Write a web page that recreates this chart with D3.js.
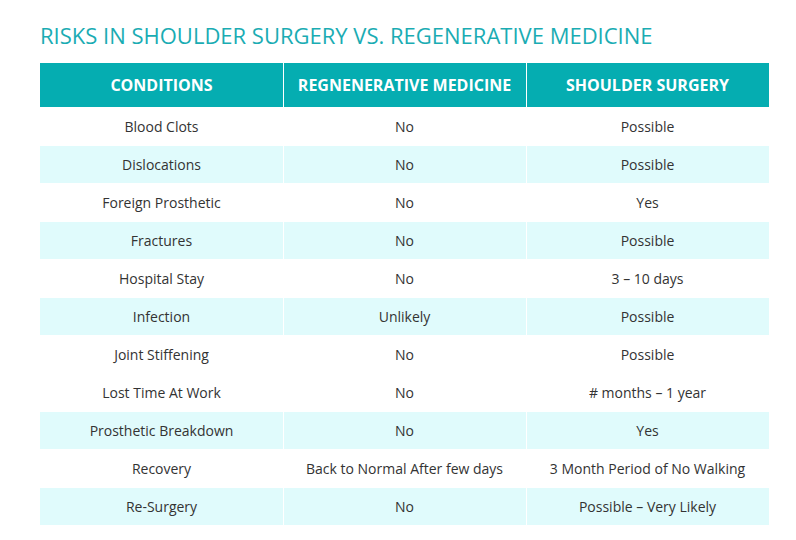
<!DOCTYPE html>
<html>
<head>
<meta charset="utf-8">
<script src="https://cdn.jsdelivr.net/npm/d3@7"></script>
<style>
  body { margin: 0; background: #fff; }
</style>
</head>
<body>
<div id="container"></div>
<script>
const title = 'RISKS IN SHOULDER SURGERY VS. REGENERATIVE MEDICINE';
const columns = ['CONDITIONS', 'REGNENERATIVE MEDICINE', 'SHOULDER SURGERY'];
const conditions = ['Blood Clots', 'Dislocations', 'Foreign Prosthetic', 'Fractures', 'Hospital Stay',
  'Infection', 'Joint Stiffening', 'Lost Time At Work', 'Prosthetic Breakdown', 'Recovery', 'Re-Surgery'];
const regenerative = ['No', 'No', 'No', 'No', 'No', 'Unlikely', 'No', 'No', 'No',
  'Back to Normal After few days', 'No'];
const surgery = ['Possible', 'Possible', 'Yes', 'Possible', '3 \u2013 10 days', 'Possible', 'Possible',
  '# months \u2013 1 year', 'Yes', '3 Month Period of No Walking', 'Possible \u2013 Very Likely'];
// rows drawn with the light tint (the stripe skips a beat after Joint Stiffening)
const shadedRows = ['Dislocations', 'Fractures', 'Infection', 'Prosthetic Breakdown', 'Re-Surgery'];

const w = 796;
const h = 540;

const svg = d3.select('#container')
  .append('svg')
    .attr('width', w)
    .attr('height', h)
    .style('display', 'block')
    .style('font-family', '"Open Sans", sans-serif');

svg.append('text')
  .attr('x', 40)
  .attr('y', 44)
  .style('font-size', '22px')
  .style('fill', '#1aacb3')
  .text(title);

const rows = conditions.map((c, i) => [c, regenerative[i], surgery[i]]);

const x = d3.scaleBand()
  .domain(d3.range(columns.length))
  .range([40, 769]);

const y = d3.scaleBand()
  .domain(d3.range(rows.length))
  .range([107, 525]);

// header
const head = svg.append('g');
head.selectAll('rect')
  .data(columns)
  .enter()
  .append('rect')
    .attr('x', (d, i) => x(i) + (i > 0 ? 1 : 0))
    .attr('y', 63)
    .attr('width', (d, i) => x.bandwidth() - (i > 0 ? 1 : 0))
    .attr('height', 44)
    .style('fill', '#05adb1');

head.selectAll('text')
  .data(columns)
  .enter()
  .append('text')
    .attr('x', (d, i) => x(i) + x.bandwidth() / 2)
    .attr('y', 91)
    .attr('text-anchor', 'middle')
    .style('font-size', '16px')
    .style('font-weight', 'bold')
    .style('fill', '#fff')
    .text(d => d);

// body rows
const row = svg.selectAll('g.row')
  .data(rows)
  .enter()
  .append('g')
    .attr('class', 'row')
    .attr('transform', (d, i) => 'translate(0, ' + y(i) + ')');

row.selectAll('rect')
  .data(d => d.map(v => ({ v: v, shaded: shadedRows.includes(d[0]) })))
  .enter()
  .append('rect')
    .attr('x', (d, i) => x(i) + (i > 0 ? 1 : 0))
    .attr('y', 1)
    .attr('width', (d, i) => x.bandwidth() - (i > 0 ? 1 : 0))
    .attr('height', y.bandwidth() - 1)
    .style('fill', d => d.shaded ? '#e0fbfc' : '#fff');

row.selectAll('text')
  .data(d => d)
  .enter()
  .append('text')
    .attr('x', (d, i) => x(i) + x.bandwidth() / 2)
    .attr('y', y.bandwidth() / 2 + 6)
    .attr('text-anchor', 'middle')
    .style('font-size', '14px')
    .style('fill', '#333')
    .text(d => d);
</script>
</body>
</html>
